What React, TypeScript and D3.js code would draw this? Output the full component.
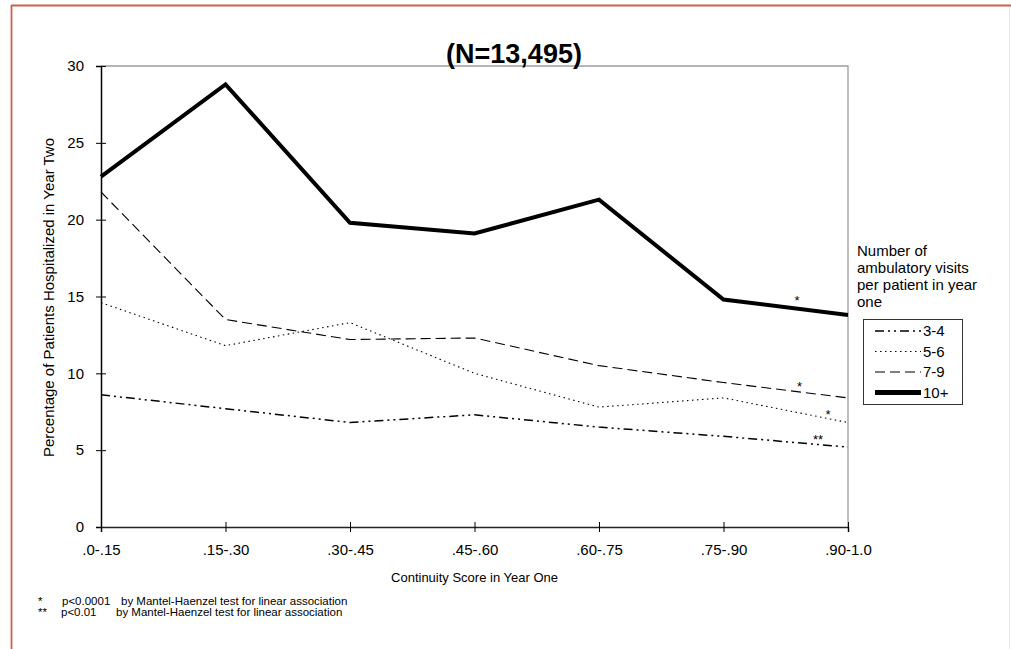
import { useEffect, useRef } from "react";
import * as d3 from "d3";

// continuity score bins (x axis)
const categories = [".0-.15", ".15-.30", ".30-.45", ".45-.60", ".60-.75", ".75-.90", ".90-1.0"];

// % hospitalized in year two, one array per visit group
const visits3to4 = [8.6, 7.7, 6.8, 7.3, 6.5, 5.9, 5.2];
const visits5to6 = [14.6, 11.8, 13.3, 10.0, 7.8, 8.4, 6.8];
const visits7to9 = [21.8, 13.5, 12.2, 12.3, 10.5, 9.4, 8.4];
const visits10plus = [22.8, 28.8, 19.8, 19.1, 21.3, 14.8, 13.8];

const seriesNames = ["3-4", "5-6", "7-9", "10+"];
const yTicks = [0, 5, 10, 15, 20, 25, 30];

const legendTitle = ["Number of", "ambulatory visits", "per patient in year", "one"];

// significance marks near the right end of each line
const sigMarks = [
  { series: "10+", after: ".75-.90", frac: 0.59, value: 15.0, mark: "*" },
  { series: "7-9", after: ".75-.90", frac: 0.61, value: 9.4, mark: "*" },
  { series: "5-6", after: ".75-.90", frac: 0.84, value: 7.55, mark: "*" },
  { series: "3-4", after: ".75-.90", frac: 0.76, value: 5.9, mark: "**" },
];

const footMarks = ["*", "**"];
const footP = ["p<0.0001", "p<0.01"];
const footText = [
  "by Mantel-Haenzel test for linear association",
  "by Mantel-Haenzel test for linear association",
];

export default function App() {
  const ref = useRef<SVGSVGElement>(null);

  useEffect(() => {
    document.body.style.margin = "0";
    const svg = d3.select(ref.current);
    svg.selectAll("*").remove();

    const font = "Arial, 'Liberation Sans', sans-serif";
    const left = 101, right = 848, top = 66, bottom = 527;

    const x = d3.scalePoint<string>().domain(categories).range([left, right]);
    const y = d3.scaleLinear().domain([0, 30]).range([bottom, top]);

    const data = [visits3to4, visits5to6, visits7to9, visits10plus];
    const styles: Record<string, { w: number; dash: string | null }> = {
      "3-4": { w: 1.5, dash: "9,4,2,4,2,4" },
      "5-6": { w: 1.1, dash: "1.5,3.5" },
      "7-9": { w: 1.1, dash: "10,5" },
      "10+": { w: 4, dash: null },
    };

    // page border
    svg.append("line").attr("x1", 11).attr("x2", 1011).attr("y1", 5.5).attr("y2", 5.5)
      .attr("stroke", "#c9624f").attr("stroke-width", 1.8);
    svg.append("line").attr("x1", 11.5).attr("x2", 11.5).attr("y1", 5).attr("y2", 649)
      .attr("stroke", "#c9624f").attr("stroke-width", 1.8);
    svg.append("line").attr("x1", 1009.5).attr("x2", 1009.5).attr("y1", 7).attr("y2", 649)
      .attr("stroke", "#f6e0dc").attr("stroke-width", 1);

    // plot frame top/right
    svg.append("path")
      .attr("d", `M${left},${top}H${right}V${bottom}`)
      .attr("fill", "none").attr("stroke", "#9c9ca4").attr("stroke-width", 1.3);

    // y axis
    const yAxis = svg.append("g").attr("transform", `translate(${left},0)`)
      .call(d3.axisLeft(y).tickValues(yTicks).tickSize(5).tickPadding(12));
    yAxis.select(".domain").attr("stroke", "#000").attr("stroke-width", 1.5);
    yAxis.selectAll(".tick line").attr("x1", 5).attr("x2", -5).attr("stroke", "#000");
    yAxis.selectAll("text").attr("font-family", font).attr("font-size", 15).attr("fill", "#000");

    // x axis
    const xAxis = svg.append("g").attr("transform", `translate(0,${bottom})`)
      .call(d3.axisBottom(x).tickSize(5).tickPadding(12));
    xAxis.select(".domain").attr("stroke", "#222").attr("stroke-width", 1.5);
    xAxis.selectAll(".tick line").attr("y1", -5).attr("y2", 5).attr("stroke", "#000");
    xAxis.selectAll("text").attr("font-family", font).attr("font-size", 15).attr("fill", "#000");

    // lines
    const line = d3.line<number>().x((_, i) => x(categories[i])!).y((d) => y(d));
    seriesNames.forEach((name, i) => {
      const st = styles[name];
      svg.append("path")
        .datum(data[i])
        .attr("d", line)
        .attr("fill", "none")
        .attr("stroke", "#000")
        .attr("stroke-width", st.w)
        .attr("stroke-linejoin", "miter")
        .attr("stroke-dasharray", st.dash);
    });

    // significance marks
    svg.append("g").selectAll("text").data(sigMarks).join("text")
      .attr("x", (d) => x(d.after)! + d.frac * x.step())
      .attr("y", (d) => y(d.value) + 8)
      .attr("text-anchor", "middle")
      .attr("font-family", font).attr("font-size", 13)
      .text((d) => d.mark);

    // title
    svg.append("text").attr("x", 514).attr("y", 63).attr("text-anchor", "middle")
      .attr("font-family", font).attr("font-weight", "bold").attr("font-size", 27)
      .text("(N=13,495)");

    // axis titles
    svg.append("text").attr("x", 474.5).attr("y", 582).attr("text-anchor", "middle")
      .attr("font-family", font).attr("font-size", 13).text("Continuity Score in Year One");
    svg.append("text")
      .attr("transform", `translate(54,${(top + bottom) / 2 + 1}) rotate(-90)`)
      .attr("text-anchor", "middle")
      .attr("font-family", font).attr("font-size", 15)
      .text("Percentage of Patients Hospitalized in Year Two");

    // legend
    const lg = svg.append("g");
    legendTitle.forEach((t, i) => {
      lg.append("text").attr("x", 857).attr("y", 256 + i * 17)
        .attr("font-family", font).attr("font-size", 15).text(t);
    });
    lg.append("rect").attr("x", 863.5).attr("y", 319.5).attr("width", 99).attr("height", 85)
      .attr("fill", "#fff").attr("stroke", "#333").attr("stroke-width", 1);
    seriesNames.forEach((name, i) => {
      const st = styles[name];
      const cy = 331 + i * 20.5;
      lg.append("line").attr("x1", 875).attr("x2", 921).attr("y1", cy).attr("y2", cy)
        .attr("stroke", "#000").attr("stroke-width", name === "10+" ? 5 : st.w)
        .attr("stroke-dasharray", st.dash);
      lg.append("text").attr("x", 923).attr("y", cy + 5)
        .attr("font-family", font).attr("font-size", 15).text(name);
    });

    // footnotes
    footMarks.forEach((m, i) => {
      const yy = 605 + i * 11;
      svg.append("text").attr("x", 38).attr("y", yy).attr("font-family", font)
        .attr("font-size", 11.5).text(m);
      svg.append("text").attr("x", i === 0 ? 62 : 61).attr("y", yy).attr("font-family", font)
        .attr("font-size", 11.5).text(footP[i]);
      svg.append("text").attr("x", i === 0 ? 121 : 116).attr("y", yy).attr("font-family", font)
        .attr("font-size", 11.5).text(footText[i]);
    });
  }, []);

  return (
    <svg
      ref={ref}
      width={1011}
      height={649}
      style={{ position: "absolute", left: 0, top: 0, background: "#fff" }}
    />
  );
}
